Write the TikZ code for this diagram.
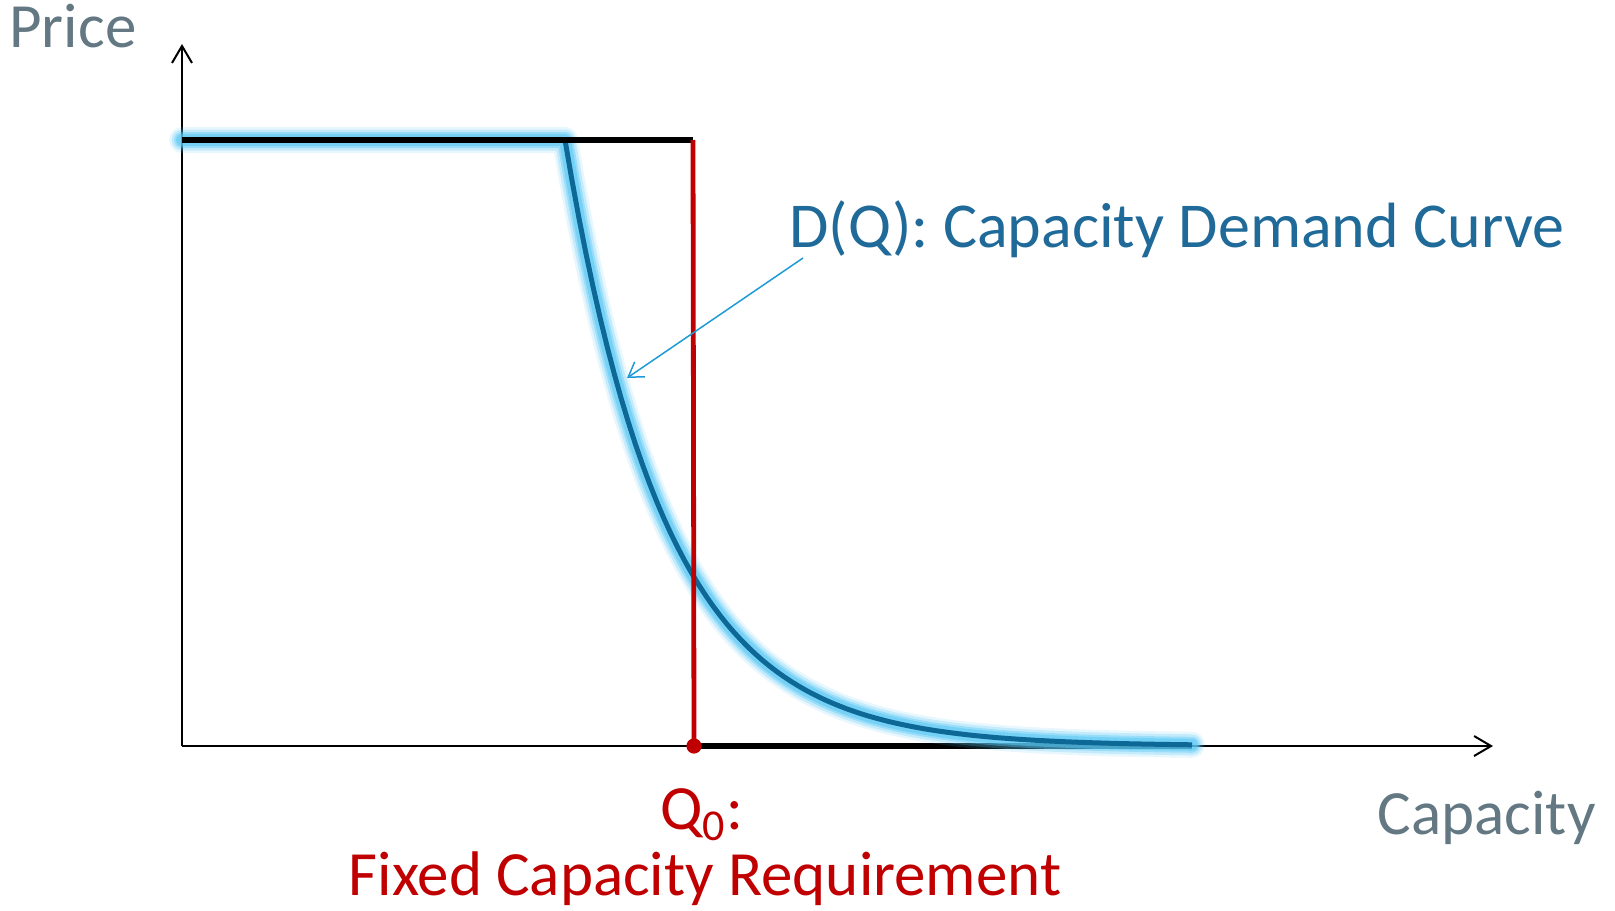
\documentclass[tikz,border=0pt]{standalone}
\usepackage{fontspec}
\setmainfont{Carlito}
\usetikzlibrary{arrows.meta}

\definecolor{slate}{RGB}{99,120,130}
\definecolor{dqblue}{RGB}{31,106,152}
\definecolor{curveblue}{RGB}{14,104,150}
\definecolor{glowblue}{RGB}{90,200,245}
\definecolor{pointerblue}{RGB}{30,155,215}
\definecolor{reqred}{RGB}{192,0,0}

\newcommand{\demandpath}{(182,140) -- (565,140) -- plot[domain=0:627,samples=90] ({565+\x},{746-606*exp(-0.0099*\x)})}

\begin{document}
\begin{tikzpicture}[x=0.5pt,y=-0.5pt,
  axis/.style={line width=1pt,-{Straight Barb[length=8.5pt,width=10pt]}},
  capline/.style={line width=3pt},
  lbl/.style={inner sep=0pt,font=\fontsize{31.5}{38}\selectfont}]

\useasboundingbox (0,0) rectangle (1615,910);

\coordinate (origin) at (182,746);
\coordinate (ytip) at (182,44);
\coordinate (xtip) at (1493,746);
\coordinate (pmax) at (182,140);
\coordinate (q0top) at (693,140);
\coordinate (q0) at (694,746);
\coordinate (qend) at (1192,746);
\coordinate (dqtail) at (803,258);
\coordinate (dqtip) at (627,378);

\draw[axis] (origin) -- (ytip);
\draw[axis] (origin) -- (xtip);
\draw[capline] (q0) -- (qend);

% glow under the demand curve
\foreach \w/\o in {13/0.14,10.5/0.25,8/0.4,6/0.55}
  \draw[glowblue,opacity=\o,line width=\w pt,line cap=round,line join=round] \demandpath;
\draw[curveblue,line width=2.5pt,line join=round] \demandpath;

\draw[capline] (pmax) -- (q0top);
\draw[reqred,line width=2.4pt] (q0) -- (q0top);
\fill[reqred] (q0) circle (3.8pt);

\draw[pointerblue,line width=0.75pt,-{Straight Barb[length=7pt,width=9pt]}] (dqtail) -- (dqtip);

\node[lbl,text=slate,anchor=base west] (price) at (9,47) {Price};
\node[lbl,text=slate,anchor=base east] (capacity) at (1596,834) {Capacity};
\node[lbl,text=dqblue,anchor=base west,font=\fontsize{32}{38}\selectfont] (dqlabel) at (789,247) {D(Q): Capacity Demand Curve};
\node[lbl,text=reqred,anchor=base west] (q0label) at (660,829) {Q\textsubscript{0}:};
\node[lbl,text=reqred,anchor=base] (reqlabel) at (705,895) {Fixed Capacity Requirement};

\end{tikzpicture}
\end{document}
